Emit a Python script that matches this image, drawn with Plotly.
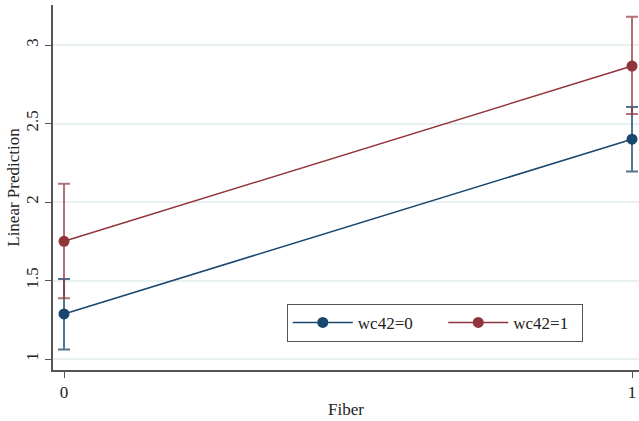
import plotly.graph_objects as go

fiber = [0, 1]
series_names = ["wc42=0", "wc42=1"]
pred_wc0 = [1.287, 2.40]
lo_wc0 = [1.06, 2.195]
hi_wc0 = [1.51, 2.605]
pred_wc1 = [1.75, 2.866]
lo_wc1 = [1.387, 2.56]
hi_wc1 = [2.117, 3.18]

colors = ["#1a476f", "#90353b"]
err_colors = ["rgba(26,71,111,0.75)", "rgba(144,53,59,0.7)"]
pads = ["\u2003\u2002", "\u2002"]

fig = go.Figure()
for name, pad, pred, lo, hi, c, ec in [
    (series_names[0], pads[0], pred_wc0, lo_wc0, hi_wc0, colors[0], err_colors[0]),
    (series_names[1], pads[1], pred_wc1, lo_wc1, hi_wc1, colors[1], err_colors[1]),
]:
    fig.add_trace(go.Scatter(
        x=fiber, y=pred, name=name + pad, mode="lines+markers",
        line=dict(color=c, width=1.5),
        marker=dict(color=c, size=11),
        error_y=dict(type="data", symmetric=False,
                     array=[h - p for h, p in zip(hi, pred)],
                     arrayminus=[p - l for p, l in zip(pred, lo)],
                     color=ec, thickness=2, width=6),
    ))

font_family = "Liberation Serif, Times New Roman, serif"
fig.update_layout(
    width=639, height=421,
    margin=dict(l=53, r=0, t=5, b=51, autoexpand=False),
    paper_bgcolor="white", plot_bgcolor="white",
    font=dict(family=font_family, size=17, color="#222"),
    showlegend=True,
    legend=dict(orientation="h", x=0.399, y=0.181, xanchor="left", yanchor="top",
                bordercolor="#555", borderwidth=1, bgcolor="white",
                font=dict(size=17, family=font_family), itemwidth=60,
                tracegroupgap=0),
    xaxis=dict(range=[-0.0194, 1.0123], tickvals=fiber, ticktext=["0", "1"],
               showgrid=False, zeroline=False, showline=True, linecolor="#555",
               linewidth=1.5, ticks="outside", ticklen=6, tickcolor="#555",
               tickfont=dict(size=17, family=font_family),
               title=dict(text="Fiber", font=dict(size=17, family=font_family), standoff=2)),
    yaxis=dict(range=[0.93, 3.255], tickvals=[1, 1.5, 2, 2.5, 3],
               ticktext=["1", "1.5", "2", "2.5", "3"], tickangle=-90,
               showgrid=True, gridcolor="#e8f0f1", gridwidth=1.5, zeroline=False,
               showline=True, linecolor="#555", linewidth=1.5,
               ticks="outside", ticklen=6, tickcolor="#555",
               tickfont=dict(size=17, family=font_family),
               title=dict(text="Linear Prediction", font=dict(size=17, family=font_family), standoff=0)),
)
fig.write_html("out.html")
